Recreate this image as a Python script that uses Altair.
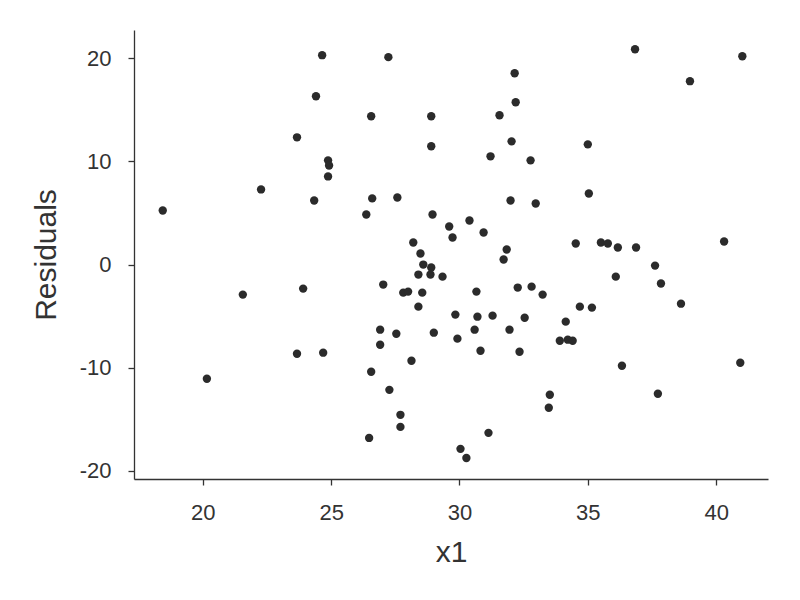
import altair as alt
import pandas as pd

x1 = [18.44, 20.16, 21.56, 22.27, 23.67, 23.67, 23.91, 24.34, 24.41, 24.65,
      24.69, 24.88, 24.92, 24.88, 26.37, 26.48, 26.56, 26.56, 26.60, 26.91,
      26.91, 27.03, 27.23, 27.27, 27.54, 27.58, 27.70, 27.70, 27.81, 28.00,
      28.13, 28.20, 28.40, 28.40, 28.48, 28.55, 28.59, 28.87, 28.90, 28.90,
      28.90, 28.95, 29.00, 29.34, 29.60, 29.73, 29.84, 29.92, 30.04, 30.27,
      30.39, 30.59, 30.66, 30.70, 30.82, 30.94, 31.13, 31.21, 31.29, 31.56,
      31.72, 31.84, 31.95, 31.99, 32.03, 32.15, 32.19, 32.27, 32.34, 32.54,
      32.77, 32.81, 32.97, 33.24, 33.48, 33.52, 33.91, 34.14, 34.22, 34.41,
      34.53, 34.69, 35.00, 35.04, 35.16, 35.51, 35.78, 36.09, 36.17, 36.33,
      36.84, 36.88, 37.62, 37.73, 37.85, 38.63, 38.98, 40.31, 40.94, 41.02]

residuals = [5.24, -11.07, -2.91, 7.28, 12.33, -8.64, -2.33, 6.21, 16.31, 20.29,
             -8.54, 10.10, 9.60, 8.54, 4.85, -16.80, -10.39, 14.37, 6.41, -6.31,
             -7.77, -1.94, 20.10, -12.14, -6.70, 6.50, -14.56, -15.73, -2.72, -2.62,
             -9.32, 2.14, -0.97, -4.08, 1.07, -2.72, 0.00, -0.97, -0.29, 14.37,
             11.46, 4.85, -6.60, -1.17, 3.69, 2.62, -4.85, -7.18, -17.86, -18.74,
             4.27, -6.31, -2.62, -5.05, -8.35, 3.11, -16.31, 10.49, -4.95, 14.47,
             0.49, 1.46, -6.31, 6.21, 11.94, 18.54, 15.73, -2.23, -8.45, -5.15,
             10.10, -2.14, 5.92, -2.91, -13.88, -12.62, -7.38, -5.53, -7.28, -7.38,
             2.04, -4.08, 11.65, 6.89, -4.17, 2.14, 2.04, -1.17, 1.65, -9.81,
             20.87, 1.65, -0.10, -12.52, -1.84, -3.79, 17.77, 2.23, -9.51, 20.19]

x_ticks = [20, 25, 30, 35, 40]
y_ticks = [-20, -10, 0, 10, 20]

df = pd.DataFrame({"x1": x1, "Residuals": residuals})

FONT = "Liberation Sans"

chart = alt.Chart(df).mark_circle(size=70, color="#2b2b2b", opacity=1).encode(
    x=alt.X("x1:Q", title="x1",
            scale=alt.Scale(domain=[17.32, 42.02], nice=False, zero=False),
            axis=alt.Axis(values=x_ticks, labelPadding=17, titlePadding=14,
                          labelExpr="datum.value + ''")),
    y=alt.Y("Residuals:Q", title="Residuals",
            scale=alt.Scale(domain=[-20.78, 22.73], nice=False, zero=False),
            axis=alt.Axis(values=y_ticks, labelPadding=17, titlePadding=18,
                          labelExpr="datum.value + ''")),
).properties(
    width=634, height=449,
    autosize=alt.AutoSizeParams(type="none"),
    padding={"left": 126, "top": 22, "right": 20, "bottom": 100},
).configure_view(stroke=None).configure_axis(
    grid=False,
    domainColor="#333333", domainWidth=1.3,
    tickColor="#333333", tickWidth=1.3, tickSize=6,
    labelFont=FONT, labelFontSize=22, labelColor="#333333",
    titleFont=FONT, titleFontSize=30, titleFontWeight="normal", titleColor="#333333",
)

chart.save("out.html", embed_options={"renderer": "svg", "actions": False})
